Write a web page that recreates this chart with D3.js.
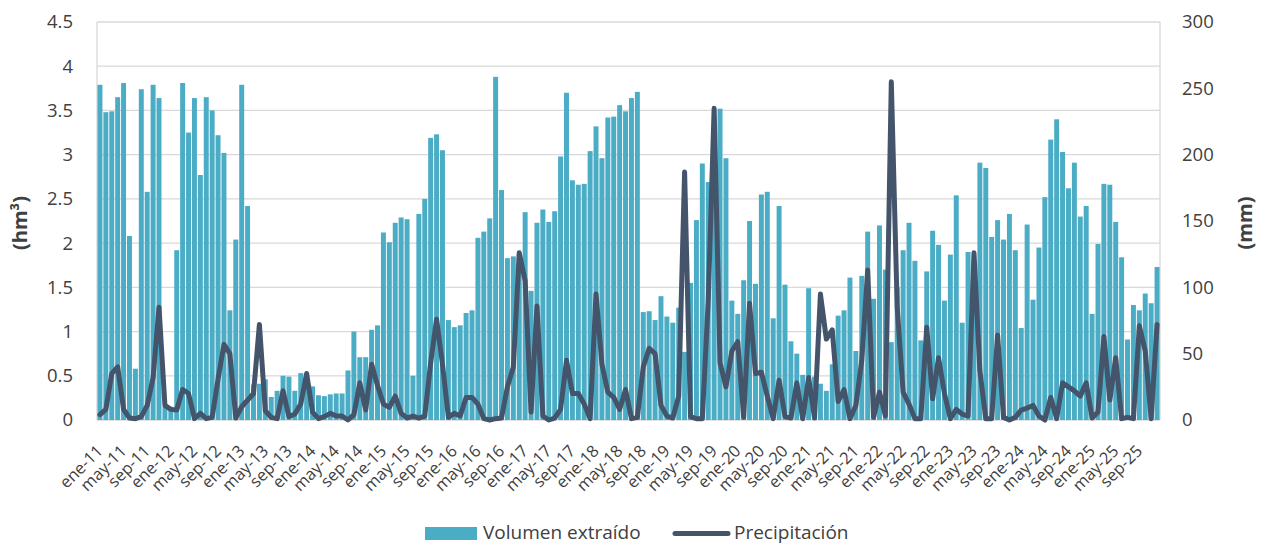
<!DOCTYPE html>
<html>
<head>
<meta charset="utf-8">
<script src="https://cdn.jsdelivr.net/npm/d3@7"></script>
<style>
  html, body { margin: 0; padding: 0; background: #fff; }
  svg { display: block; font-family: "Open Sans", "Noto Sans", sans-serif; }
</style>
</head>
<body>
<svg id="chart" width="1266" height="545"></svg>
<script>
// Month abbreviations and years covered by the series (ene-2011 .. dic-2025)
const mesesAbrev = ["ene","feb","mar","abr","may","jun","jul","ago","sep","oct","nov","dic"];
const anios = [11,12,13,14,15,16,17,18,19,20,21,22,23,24,25];

// Volumen extraído (hm³), one value per month
const volumen = [
  3.79,3.48,3.49,3.65,3.81,2.08,0.58,3.74,2.58,3.79,3.64,0.15,
  0.15,1.92,3.81,3.25,3.64,2.77,3.65,3.50,3.22,3.02,1.24,2.04,
  3.79,2.42,0.40,0.41,0.46,0.26,0.33,0.50,0.49,0.33,0.53,0.49,
  0.38,0.28,0.27,0.29,0.30,0.30,0.56,1.00,0.71,0.71,1.02,1.07,
  2.12,2.01,2.23,2.29,2.27,0.50,2.33,2.50,3.19,3.23,3.05,1.13,
  1.05,1.07,1.21,1.24,2.06,2.13,2.28,3.88,2.60,1.83,1.85,1.87,
  2.35,1.46,2.23,2.38,2.24,2.36,2.98,3.70,2.71,2.66,2.67,3.04,
  3.32,2.96,3.42,3.43,3.56,3.49,3.64,3.71,1.22,1.23,1.13,1.40,
  1.17,1.10,1.27,0.77,1.55,2.26,2.90,2.69,3.30,3.52,2.96,1.35,
  1.20,1.58,2.25,1.54,2.55,2.58,1.15,2.42,1.53,0.89,0.75,0.51,
  1.49,0.49,0.41,0.33,0.63,1.18,1.24,1.61,0.78,1.63,2.13,1.37,
  2.20,1.70,0.88,1.50,1.92,2.23,1.80,0.90,1.68,2.14,1.98,1.35,
  1.87,2.54,1.10,1.90,1.60,2.91,2.85,2.07,2.26,2.04,2.33,1.92,
  1.04,2.21,1.36,1.95,2.52,3.17,3.40,3.03,2.62,2.91,2.30,2.42,
  1.20,1.99,2.67,2.66,2.24,1.84,0.91,1.30,1.24,1.43,1.32,1.73
];

// Precipitación mensual (mm)
const precipitacion = [
  4,8,35,40,8,1.5,1,2.5,11,32,85,11,
  8,7.5,23,20,1,5,1,2,31,57,50,1.5,
  10,15,20,72,7,2,1,22,2.5,4.5,12,35,
  6,1,2.5,5,3,3,0,4,28,7.5,42,26,
  12,9.5,18,5,1.5,3,1.5,3,43,76,42,2,
  5,3,17,17,12,1,0,1,1.5,25,40,126,
  105,6,86,3,0,1.5,8,45,20,20,12,1,
  95,42,21,17,8,23,1,2,40,54,50,11,
  3,1.5,18,187,2.5,1,1,90,235,43,25,52,
  59,2,88,35,36,18,1,30,2.5,1.5,28,1,
  32,1.5,95,61,68,14,23,1,11,45,113,2,
  21,3,255,85,21,12,1,1,70,16,47,20,
  1,8,4.5,3,126,37,1,1,64,2,0,2,
  7.5,9,11,3,0,17,1,28,25,22,18,28,
  1.5,6,63,15,47,1,2,1,71,52,1,72
];

// Axis tick values
const ticksIzq = [0,0.5,1,1.5,2,2.5,3,3.5,4,4.5];
const ticksDer = [0,50,100,150,200,250,300];

const periodos = [];
anios.forEach(a => mesesAbrev.forEach(m => periodos.push(m + "-" + a)));
const datos = periodos.map((p, i) => ({ periodo: p, vol: volumen[i], pp: precipitacion[i] }));

const svg = d3.select("#chart");
const W = 1266, H = 545;
const plot = { left: 97, right: 1160, top: 22, bottom: 420 };

svg.append("rect").attr("width", W).attr("height", H).attr("fill", "#fff");

const x = d3.scaleBand().domain(periodos).range([plot.left, plot.right])
  .paddingInner(0.16).paddingOuter(0.08);
const yL = d3.scaleLinear().domain([0, 4.5]).range([plot.bottom, plot.top]);
const yR = d3.scaleLinear().domain([0, 300]).range([plot.bottom, plot.top]);

const gris = "#404040";
const fuente = "'Open Sans', sans-serif";

// Horizontal gridlines
svg.append("g").selectAll("line").data(ticksIzq).join("line")
  .attr("x1", plot.left).attr("x2", plot.right)
  .attr("y1", d => yL(d)).attr("y2", d => yL(d))
  .attr("stroke", "#d9d9d9").attr("stroke-width", 1.3);

// Vertical frame lines on both value axes
[plot.left, plot.right].forEach(px => {
  svg.append("line").attr("x1", px).attr("x2", px)
    .attr("y1", plot.top).attr("y2", plot.bottom)
    .attr("stroke", "#d9d9d9").attr("stroke-width", 1.3);
});

// Bars: volumen extraído
svg.append("g").selectAll("rect").data(datos).join("rect")
  .attr("x", d => x(d.periodo))
  .attr("width", x.bandwidth())
  .attr("y", d => yL(d.vol))
  .attr("height", d => yL(0) - yL(d.vol))
  .attr("fill", "#4bacc6");

// Line: precipitación
const linea = d3.line()
  .x(d => x(d.periodo) + x.bandwidth() / 2)
  .y(d => yR(d.pp));
svg.append("path").datum(datos)
  .attr("d", linea)
  .attr("fill", "none")
  .attr("stroke", "#44546a")
  .attr("stroke-width", 5)
  .attr("stroke-linejoin", "round")
  .attr("stroke-linecap", "round");

// Left axis
const ejeIzq = d3.axisLeft(yL).tickValues(ticksIzq).tickSize(0).tickPadding(0)
  .tickFormat(d => d3.format("")(d));
svg.append("g").attr("transform", `translate(${plot.left - 24},0)`).call(ejeIzq)
  .call(g => g.select(".domain").remove())
  .selectAll("text").attr("fill", gris).attr("font-size", 18.5)
  .attr("font-family", fuente);

// Right axis
const ejeDer = d3.axisRight(yR).tickValues(ticksDer).tickSize(0).tickPadding(0);
svg.append("g").attr("transform", `translate(${plot.right + 22},0)`).call(ejeDer)
  .call(g => g.select(".domain").remove())
  .selectAll("text").attr("fill", gris).attr("font-size", 18.5)
  .attr("font-family", fuente);

// Bottom axis labels every four months
const ticksX = periodos.filter((p, i) => i % 4 === 0);
const ejeX = d3.axisBottom(x).tickValues(ticksX).tickSize(0).tickPadding(0);
const gX = svg.append("g").attr("transform", `translate(0,${plot.bottom})`).call(ejeX);
gX.select(".domain").remove();
gX.selectAll("text")
  .attr("fill", gris).attr("font-size", 16.5)
  .attr("font-family", fuente)
  .attr("text-anchor", "end")
  .attr("y", 0)
  .attr("dy", 0)
  .attr("transform", "translate(4,32) rotate(-45)");

// Axis titles
svg.append("text")
  .attr("transform", `translate(27,${(plot.top + plot.bottom) / 2 + 2}) rotate(-90)`)
  .attr("text-anchor", "middle").attr("font-size", 20).attr("font-weight", "bold")
  .attr("font-family", fuente).attr("fill", gris).text("(hm³)");
svg.append("text")
  .attr("transform", `translate(1252,${(plot.top + plot.bottom) / 2 + 2}) rotate(-90)`)
  .attr("text-anchor", "middle").attr("font-size", 20).attr("font-weight", "bold")
  .attr("font-family", fuente).attr("fill", gris).text("(mm)");

// Legend
const leyenda = svg.append("g");
leyenda.append("rect").attr("x", 425).attr("y", 527).attr("width", 52).attr("height", 13)
  .attr("fill", "#4bacc6");
leyenda.append("text").attr("x", 483).attr("y", 539)
  .attr("font-size", 19).attr("font-family", fuente).attr("fill", gris).text("Volumen extraído");
leyenda.append("line").attr("x1", 675).attr("x2", 728).attr("y1", 533.5).attr("y2", 533.5)
  .attr("stroke", "#44546a").attr("stroke-width", 5).attr("stroke-linecap", "round");
leyenda.append("text").attr("x", 734).attr("y", 539)
  .attr("font-size", 19).attr("font-family", fuente).attr("fill", gris).text("Precipitación");
</script>
</body>
</html>
